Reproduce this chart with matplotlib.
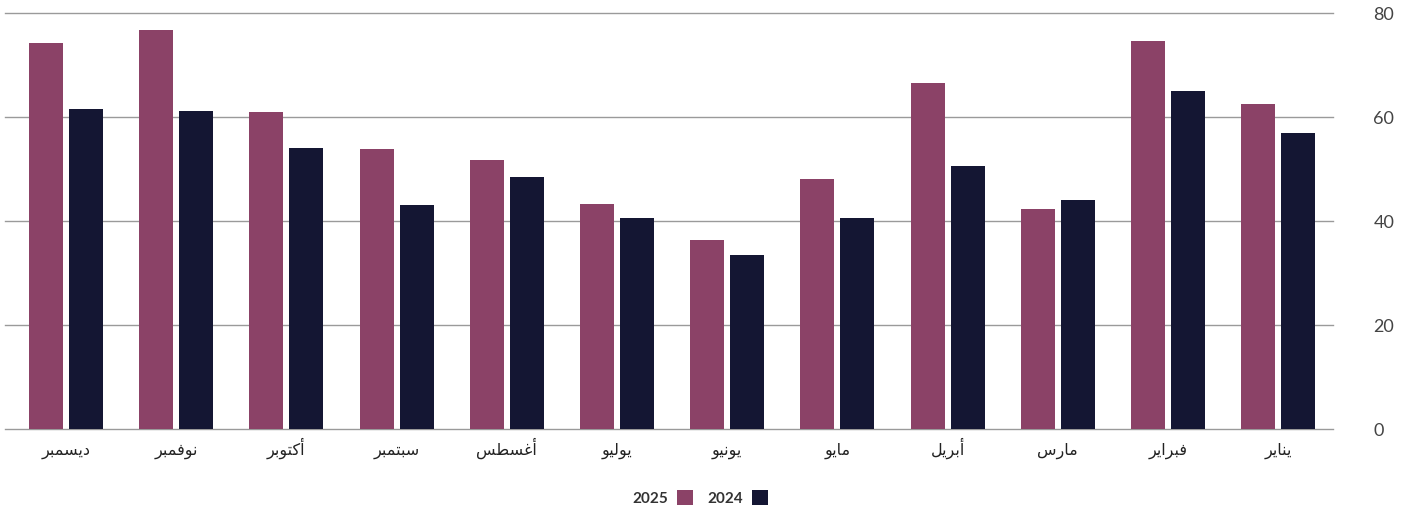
import matplotlib
matplotlib.use("Agg")
import matplotlib.pyplot as plt
import numpy as np

# ---- data (display order, left to right: December ... January) ----
months = ["ديسمبر", "نوفمبر", "أكتوبر", "سبتمبر", "أغسطس", "يوليو",
          "يونيو", "مايو", "أبريل", "مارس", "فبراير", "يناير"]
values_2025 = [74.2, 76.7, 61.0, 53.8, 51.7, 43.3, 36.3, 48.1, 66.5, 42.3, 74.6, 62.5]
values_2024 = [61.5, 61.2, 54.0, 43.1, 48.5, 40.6, 33.5, 40.6, 50.6, 44.0, 65.0, 56.9]
series_labels = ["2025", "2024"]
yticks = [0, 20, 40, 60, 80]

COLOR_2025 = "#8B4267"
COLOR_2024 = "#141633"
GRID = "#9a9a9a"

# ---- minimal Arabic shaping (presentation forms) + visual reordering ----
_FORMS = {  # char: (isolated base codepoint, number of forms)
    "ا": (0xFE8D, 2), "أ": (0xFE83, 2), "ب": (0xFE8F, 4), "ت": (0xFE95, 4),
    "د": (0xFEA9, 2), "ر": (0xFEAD, 2), "س": (0xFEB1, 4), "ط": (0xFEC1, 4),
    "غ": (0xFECD, 4), "ف": (0xFED1, 4), "ك": (0xFED9, 4), "ل": (0xFEDD, 4),
    "م": (0xFEE1, 4), "ن": (0xFEE5, 4), "و": (0xFEED, 2), "ي": (0xFEF1, 4),
}


def shape(word):
    out = []
    n = len(word)
    for i, ch in enumerate(word):
        if ch not in _FORMS:
            out.append(ch)
            continue
        base, nf = _FORMS[ch]
        prev_joins = i > 0 and word[i - 1] in _FORMS and _FORMS[word[i - 1]][1] == 4
        next_joins = nf == 4 and i < n - 1 and word[i + 1] in _FORMS
        if prev_joins and next_joins:
            k = 3
        elif prev_joins:
            k = 1
        elif next_joins:
            k = 2
        else:
            k = 0
        out.append(chr(base + k))
    return "".join(reversed(out))


# ---- figure ----
fig = plt.figure(figsize=(14.04, 5.13), dpi=100)
W, H = 1404, 513
ax = fig.add_axes([5 / W, 84 / H, (1333 - 5) / W, (429 - 13) / H])

S = 110.2  # group spacing in px
x = np.arange(len(months))
bw = 34 / S
off = 20 / S
b1 = ax.bar(x - off, values_2025, width=bw, color=COLOR_2025, zorder=3, label=series_labels[0])
b2 = ax.bar(x + off, values_2024, width=bw, color=COLOR_2024, zorder=3, label=series_labels[1])

ax.set_xlim((5 - 66) / S, (1333 - 66) / S)
ax.set_ylim(0, 80)

for sp in ax.spines.values():
    sp.set_visible(False)

ax.set_yticks(yticks)
ax.yaxis.tick_right()
ax.set_yticklabels([str(v) for v in yticks], family="Lato", fontsize=13,
                   color="#444444")
ax.tick_params(axis="y", length=0, pad=29)
for lbl in ax.get_yticklabels():
    lbl.set_horizontalalignment("left")
ax.grid(axis="y", color=GRID, linewidth=1.0, zorder=0)
for gl in ax.get_ygridlines():
    gl.set_clip_on(False)
ax.set_axisbelow(True)

ax.set_xticks(x)
ax.set_xticklabels([shape(m) for m in months], family="DejaVu Sans", fontsize=11.5,
                   color="#222222", va="baseline")
ax.tick_params(axis="x", length=0, pad=18.7)

fig.legend(handles=[b1, b2], labels=series_labels, loc="center",
           bbox_to_anchor=(700 / W, 1 - 498 / H), ncol=2, frameon=False,
           markerfirst=False, handlelength=1.05, handleheight=1.05,
           handletextpad=0.6, columnspacing=0.9,
           prop={"family": "Lato", "weight": "bold", "size": 11})
for t in fig.legends[0].get_texts():
    t.set_color("#333333")

fig.savefig("out.png", dpi=100, facecolor="white")
